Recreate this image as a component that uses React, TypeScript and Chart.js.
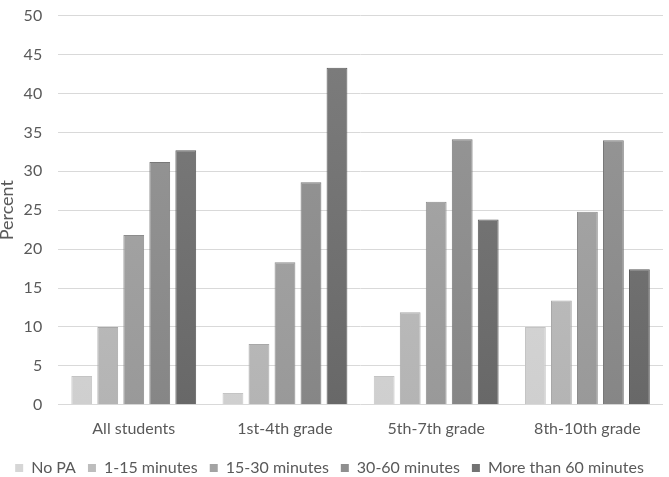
import React, { useEffect, useRef } from "react";
import { Chart, registerables } from "chart.js";

Chart.register(...registerables);

const categories = ["All students", "1st-4th grade", "5th-7th grade", "8th-10th grade"];
const seriesNames = ["No PA", "1-15 minutes", "15-30 minutes", "30-60 minutes", "More than 60 minutes"];
const noPA = [3.7, 1.5, 3.7, 10.0];
const min1to15 = [10.0, 7.8, 11.9, 13.4];
const min15to30 = [21.8, 18.3, 26.1, 24.8];
const min30to60 = [31.2, 28.6, 34.1, 34.0];
const over60 = [32.7, 43.3, 23.8, 17.4];
const yTicks = [0, 5, 10, 15, 20, 25, 30, 35, 40, 45, 50];

const topColors = ["#dedede", "#c6c6c6", "#acacac", "#9a9a9a", "#7e7e7e"];
const bottomColors = ["#cfcfcf", "#b4b4b4", "#999999", "#868686", "#686868"];
const borderColors = ["#c4c4c4", "#a8a8a8", "#8c8c8c", "#787878", "#5a5a5a"];
const legendColors = ["#d6d6d6", "#bdbdbd", "#a3a3a3", "#8f8f8f", "#737373"];

const FONT = "Lato, 'Open Sans', sans-serif";
const W = 669;
const H = 477;
const EXTRA = 9;

export default function App() {
  const ref = useRef<HTMLCanvasElement | null>(null);
  useEffect(() => {
    if (!ref.current) return;
    const allData = [noPA, min1to15, min15to30, min30to60, over60];
    const chart = new Chart(ref.current, {
      type: "bar",
      data: {
        labels: categories,
        datasets: allData.map((d, i) => ({
          label: seriesNames[i],
          data: d,
          backgroundColor: (ctx: any) => {
            const area = ctx.chart.chartArea;
            if (!area) return legendColors[i];
            const g = ctx.chart.ctx.createLinearGradient(0, area.top, 0, area.bottom);
            g.addColorStop(0, topColors[i]);
            g.addColorStop(1, bottomColors[i]);
            return g;
          },
          borderColor: borderColors[i],
          borderWidth: 1,
          categoryPercentage: 0.86,
          barPercentage: 0.8,
        })),
      },
      options: {
        animation: false,
        responsive: false,
        maintainAspectRatio: false,
        layout: { padding: { left: -4, right: 6, top: 0, bottom: 0 } },
        plugins: {
          tooltip: { enabled: false },
          legend: {
            position: "bottom",
            labels: {
              boxWidth: 8,
              boxHeight: 8,
              padding: 12,
              color: "#595959",
              font: { family: FONT, size: 16 },
              generateLabels: () =>
                seriesNames.map((n, i) => ({
                  text: n,
                  fillStyle: legendColors[i],
                  strokeStyle: legendColors[i],
                  lineWidth: 0,
                  hidden: false,
                  datasetIndex: i,
                  fontColor: "#595959",
                })),
            },
          },
        },
        scales: {
          x: {
            grid: { display: false },
            border: { display: false },
            afterFit: (axis: any) => {
              axis.height += 4;
            },
            ticks: {
              color: "#595959",
              padding: 6,
              font: { family: FONT, size: 16 },
            },
          },
          y: {
            min: 0,
            max: 50,
            afterBuildTicks: (axis: any) => {
              axis.ticks = yTicks.map((v) => ({ value: v }));
            },
            grid: {
              color: "#d9d9d9",
              lineWidth: 1,
              drawTicks: true,
              tickLength: 10,
              tickColor: "rgba(0,0,0,0)",
            },
            border: { display: false },
            title: {
              display: true,
              text: "Percent",
              color: "#595959",
              padding: { top: 0, bottom: 0 },
              font: { family: FONT, size: 18 },
            },
            ticks: {
              color: "#595959",
              padding: 6,
              font: { family: FONT, size: 16 },
            },
          },
        },
      },
    });
    return () => chart.destroy();
  }, []);
  return (
    <div style={{ position: "fixed", left: 0, top: 0, width: W, height: H, overflow: "hidden", background: "#fff" }}>
      <canvas ref={ref} width={W} height={H + EXTRA} style={{ width: W, height: H + EXTRA, display: "block" }} />
    </div>
  );
}
